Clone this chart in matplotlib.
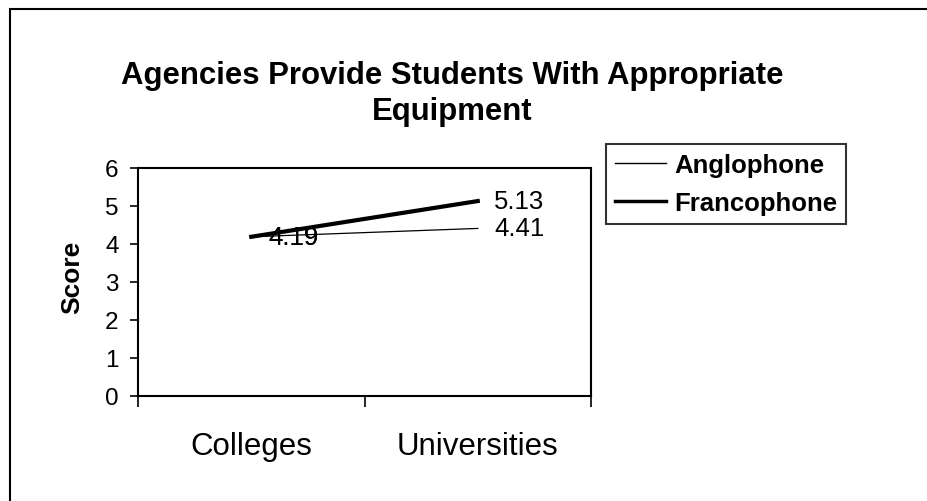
import numpy as np
import matplotlib
matplotlib.use("Agg")
import matplotlib.pyplot as plt
from matplotlib.patches import Rectangle

plt.rcParams['font.family'] = ['Liberation Sans', 'DejaVu Sans']

# chart data
categories = ['Colleges', 'Universities']
anglophone = [4.19, 4.41]
francophone = [4.19, 5.13]
series_names = ['Anglophone', 'Francophone']
yticks = [0, 1, 2, 3, 4, 5, 6]

W, H = 927, 502
fig = plt.figure(figsize=(W / 100, H / 100), dpi=100)

# outer chart border (runs off the right and bottom of the scan)
fig.patches.append(Rectangle((10 / W, -0.1), 1.2, 1 - 10 / H + 0.1,
                             transform=fig.transFigure, fill=False,
                             edgecolor='black', linewidth=1.5))

ax = fig.add_axes([138 / W, 1 - 397 / H, (591 - 138) / W, (397 - 169) / H])
x = np.arange(len(categories))

l1, = ax.plot(x, anglophone, color='black', linewidth=0.9)
l2, = ax.plot(x, francophone, color='black', linewidth=3.0)

# data labels to the right of each point
for vals in (anglophone, francophone):
    for xi, v in zip(x, vals):
        ax.annotate(f'{v:.2f}', (xi, v), xytext=(12, 0), textcoords='offset points',
                    ha='left', va='center', fontsize=18.5)

ax.set_xlim(-0.5, 1.5)
ax.set_ylim(0, 6)
ax.set_yticks(yticks)
ax.tick_params(axis='y', direction='out', length=6, width=1.2, labelsize=17.5, pad=8)

ax.set_xticks(x, labels=categories)
ax.tick_params(axis='x', which='major', length=0, labelsize=22.5, pad=25)
ax.set_xticks([-0.5, 0.5, 1.5], minor=True)
ax.tick_params(axis='x', which='minor', direction='out', length=8, width=1.2)

for s in ax.spines.values():
    s.set_linewidth(1.5)

fig.text(72 / W, 1 - 277 / H, 'Score', rotation=90, ha='center', va='center',
         fontsize=19, fontweight='bold')

fig.text(452 / W, 1 - 94 / H, 'Agencies Provide Students With Appropriate\nEquipment',
         ha='center', va='center', fontsize=22.4, fontweight='bold', linespacing=1.25)

leg = fig.legend([l1, l2], series_names, loc='upper left',
                 bbox_to_anchor=(606 / W, 1 - 145 / H), bbox_transform=fig.transFigure,
                 frameon=True, fancybox=False, prop={'size': 18.5, 'weight': 'bold'},
                 handlelength=2.0, handletextpad=0.3, borderpad=0.35, labelspacing=0.55,
                 borderaxespad=0)
leg.get_frame().set_edgecolor('black')
leg.get_frame().set_linewidth(1.5)
for h in leg.get_lines():
    h.set_linewidth(1.0)
leg.get_lines()[1].set_linewidth(2.5)

fig.savefig('out.png', dpi=100)
